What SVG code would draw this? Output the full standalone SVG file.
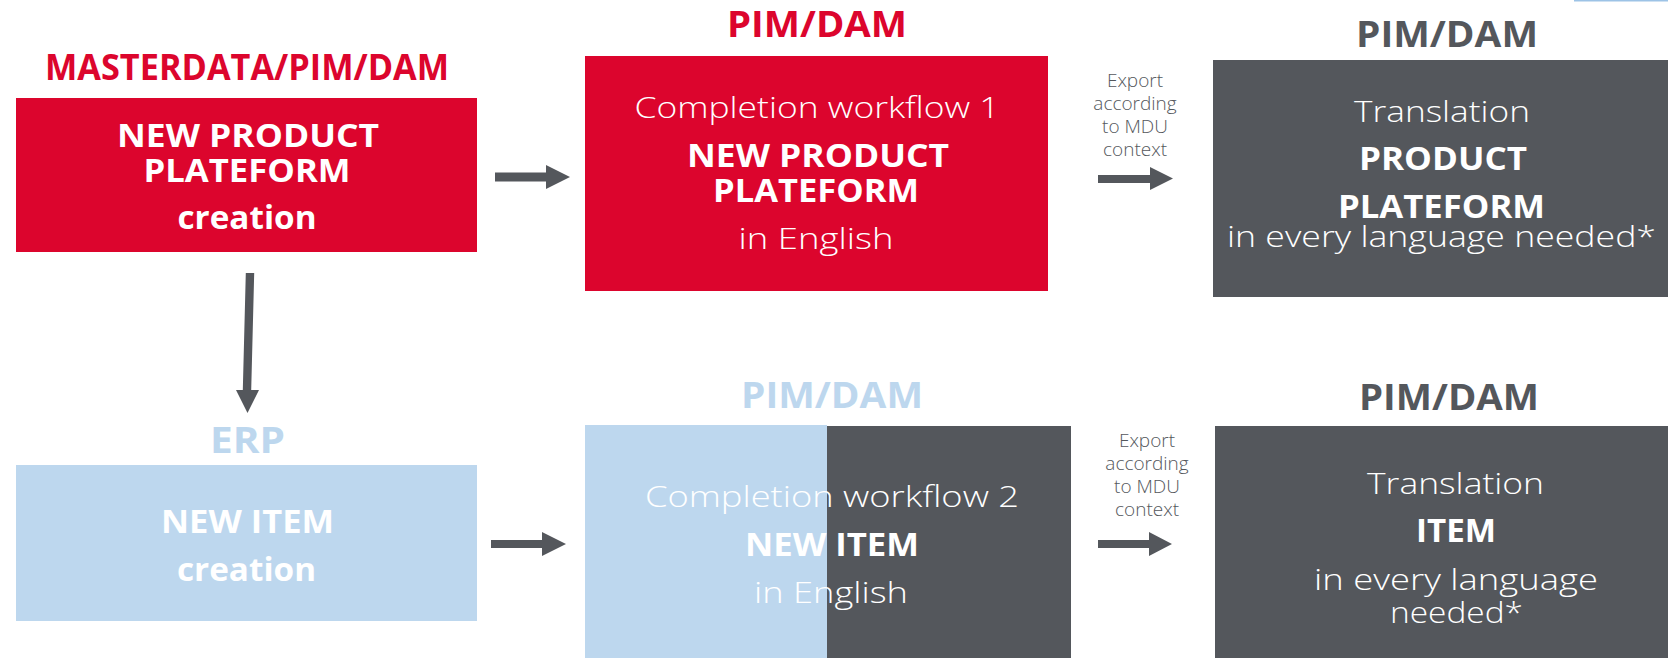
<svg xmlns="http://www.w3.org/2000/svg" width="1668" height="658" viewBox="0 0 1668 658">
<style>
  text { font-family: "Open Sans", "Liberation Sans", Arial, sans-serif; text-anchor: middle; }
  .title { font-size: 35px; font-weight: 700; }
  .b { font-size: 32px; font-weight: 700; fill: #ffffff; }
  .l { font-size: 30px; font-weight: 300; fill: #ffffff; }
  .exp { font-size: 19px; font-weight: 300; fill: #54575C; }
  .red { fill: #DC052D; }
  .gray { fill: #54575C; }
  .blue { fill: #BDD7EE; }
  .arrow { fill: #54575C; }
</style>
<rect x="1574" y="0" width="94" height="1.5" fill="#9DC3E6"/>

<g id="node-masterdata">
  <text class="title red" x="247" y="80" textLength="404" lengthAdjust="spacingAndGlyphs">MASTERDATA/PIM/DAM</text>
  <rect class="red" x="16" y="98" width="461" height="154"/>
  <text class="b" x="248" y="147" textLength="262" lengthAdjust="spacingAndGlyphs">NEW PRODUCT</text>
  <text class="b" x="247" y="182" textLength="207" lengthAdjust="spacingAndGlyphs">PLATEFORM</text>
  <text class="b" x="247" y="229" textLength="139" lengthAdjust="spacingAndGlyphs">creation</text>
</g>

<g id="node-pim1">
  <text class="title red" x="817" y="37" textLength="180" lengthAdjust="spacingAndGlyphs">PIM/DAM</text>
  <rect class="red" x="585" y="56" width="463" height="235"/>
  <text class="l" x="817" y="118" textLength="365" lengthAdjust="spacingAndGlyphs">Completion workflow 1</text>
  <text class="b" x="818" y="167" textLength="262" lengthAdjust="spacingAndGlyphs">NEW PRODUCT</text>
  <text class="b" x="816" y="202" textLength="206" lengthAdjust="spacingAndGlyphs">PLATEFORM</text>
  <text class="l" x="816" y="249" textLength="155" lengthAdjust="spacingAndGlyphs">in English</text>
</g>

<g id="node-translation1">
  <text class="title gray" x="1447" y="47" textLength="182" lengthAdjust="spacingAndGlyphs">PIM/DAM</text>
  <rect class="gray" x="1213" y="60" width="455" height="237"/>
  <text class="l" x="1442" y="122" textLength="176" lengthAdjust="spacingAndGlyphs">Translation</text>
  <text class="b" x="1443" y="170" textLength="168" lengthAdjust="spacingAndGlyphs">PRODUCT</text>
  <text class="b" x="1441.5" y="218" textLength="207" lengthAdjust="spacingAndGlyphs">PLATEFORM</text>
  <text class="l" x="1441.5" y="247" textLength="429" lengthAdjust="spacingAndGlyphs">in every language needed*</text>
</g>

<g id="node-erp">
  <text class="title blue" x="247.5" y="453" textLength="75" lengthAdjust="spacingAndGlyphs">ERP</text>
  <rect class="blue" x="16" y="465" width="461" height="156"/>
  <text class="b" x="247.5" y="533" textLength="173" lengthAdjust="spacingAndGlyphs">NEW ITEM</text>
  <text class="b" x="246.5" y="581" textLength="139" lengthAdjust="spacingAndGlyphs">creation</text>
</g>

<g id="node-pim2">
  <text class="title blue" x="832" y="408" textLength="182" lengthAdjust="spacingAndGlyphs">PIM/DAM</text>
  <rect class="blue" x="585" y="425" width="242" height="233"/>
  <rect class="gray" x="827" y="426" width="244" height="232"/>
  <text class="l" x="832" y="507" textLength="374" lengthAdjust="spacingAndGlyphs">Completion workflow 2</text>
  <text class="b" x="832" y="556" textLength="174" lengthAdjust="spacingAndGlyphs">NEW ITEM</text>
  <text class="l" x="831" y="603" textLength="154" lengthAdjust="spacingAndGlyphs">in English</text>
</g>

<g id="node-translation2">
  <text class="title gray" x="1449" y="410" textLength="180" lengthAdjust="spacingAndGlyphs">PIM/DAM</text>
  <rect class="gray" x="1215" y="426" width="453" height="232"/>
  <text class="l" x="1455.5" y="494" textLength="177" lengthAdjust="spacingAndGlyphs">Translation</text>
  <text class="b" x="1456" y="542" textLength="80" lengthAdjust="spacingAndGlyphs">ITEM</text>
  <text class="l" x="1456" y="590" textLength="284" lengthAdjust="spacingAndGlyphs">in every language</text>
  <text class="l" x="1456.5" y="623" textLength="133" lengthAdjust="spacingAndGlyphs">needed*</text>
</g>

<g id="connectors">
  <polygon class="arrow" points="495,172.5 546,172.5 546,165 570,177 546,189 546,181.5 495,181.5"/>
  <polygon class="arrow" points="245.8,273 254.2,273 251.2,390 259,390 247.5,413 236,390 242.8,390"/>
  <polygon class="arrow" points="491,540 542,540 542,532 566,544 542,556 542,548 491,548"/>
  <g id="export1">
    <text class="exp" x="1135" y="87">Export</text>
    <text class="exp" x="1135" y="110">according</text>
    <text class="exp" x="1135" y="133">to MDU</text>
    <text class="exp" x="1135" y="156">context</text>
    <polygon class="arrow" points="1098,175 1150,175 1150,167 1173,178.5 1150,190 1150,183 1098,183"/>
  </g>
  <g id="export2">
    <text class="exp" x="1147" y="447">Export</text>
    <text class="exp" x="1147" y="470">according</text>
    <text class="exp" x="1147" y="493">to MDU</text>
    <text class="exp" x="1147" y="516">context</text>
    <polygon class="arrow" points="1098,540 1149,540 1149,532 1172,544 1149,556 1149,548 1098,548"/>
  </g>
</g>
</svg>
